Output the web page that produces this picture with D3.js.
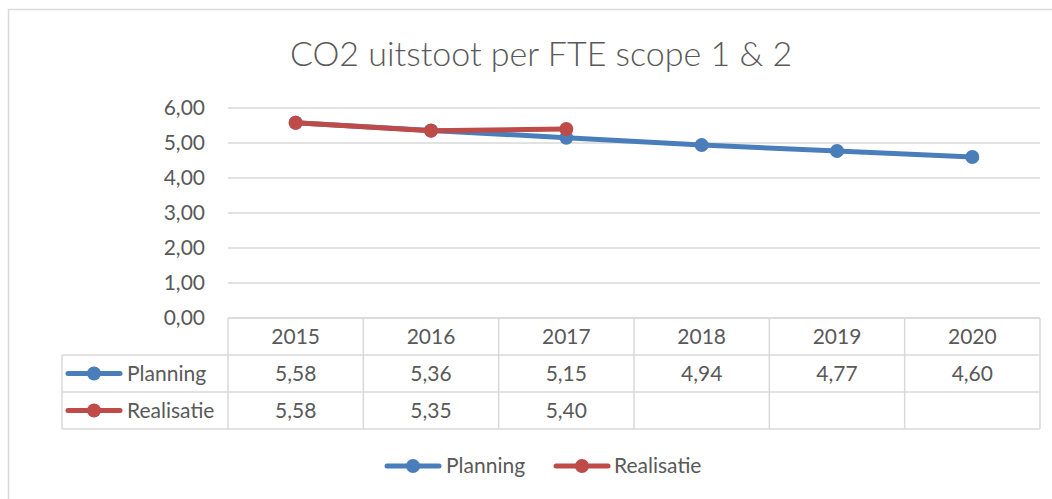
<!DOCTYPE html>
<html>
<head>
  <meta charset="UTF-8">
  <style>
    body {
      margin: 0;
      background-color: white;
      font-family: Lato, 'Open Sans', sans-serif;
    }
    svg {
      display: block;
    }
  </style>
</head>
<body>

<svg></svg>

<script src="https://d3js.org/d3.v7.min.js"></script>

<script>
let width = 1052, height = 499;

// chart data
let years = ["2015", "2016", "2017", "2018", "2019", "2020"];
let planning = [5.58, 5.36, 5.15, 4.94, 4.77, 4.60];
let realisatie = [5.58, 5.35, 5.40, null, null, null];
let yTicks = [0, 1, 2, 3, 4, 5, 6];
let seriesNames = ["Planning", "Realisatie"];
let seriesColors = ["#4a7ebb", "#be4b48"];

let textColor = "#595959";
let gridColor = "#d9d9d9";

let svg = d3.select("svg")
    .attr("width", width)
    .attr("height", height);

// outer frame
svg.append("rect")
    .attr("x", 8.5).attr("y", 9.5)
    .attr("width", 1100).attr("height", 1000)
    .attr("fill", "white")
    .attr("stroke", gridColor)
    .attr("stroke-width", 1.5);

svg.append("text")
    .attr("x", 541).attr("y", 66)
    .attr("text-anchor", "middle")
    .attr("fill", textColor)
    .attr("font-size", 34)
    .attr("font-weight", 300)
    .text("CO2 uitstoot per FTE scope 1 & 2");

let plotLeft = 228, plotRight = 1040, plotTop = 108, zero = 318;

let x = d3.scaleBand().domain(years).range([plotLeft, plotRight]);
let y = d3.scaleLinear().domain([0, 6]).range([zero, plotTop]);

let fmt = v => v == null ? "" : d3.format(".2f")(v).replace(".", ",");

// gridlines
svg.append("g")
  .selectAll("line")
  .data(yTicks)
  .enter()
  .append("line")
    .attr("x1", plotLeft).attr("x2", plotRight)
    .attr("y1", d => y(d)).attr("y2", d => y(d))
    .attr("stroke", gridColor)
    .attr("stroke-width", 1.5);

svg.append("g")
  .selectAll("text")
  .data(yTicks)
  .enter()
  .append("text")
    .attr("x", 205)
    .attr("y", d => y(d))
    .attr("dy", "0.35em")
    .attr("text-anchor", "end")
    .attr("fill", textColor)
    .attr("font-size", 21)
    .text(d => fmt(d));

// data table
let rowH = 37;
let rows = [zero, zero + rowH, zero + 2 * rowH, zero + 3 * rowH];
let legLeft = 62;
let table = svg.append("g")
    .attr("stroke", gridColor)
    .attr("stroke-width", 1.5);

table.append("line")
    .attr("x1", plotLeft).attr("x2", plotRight)
    .attr("y1", rows[0]).attr("y2", rows[0]);
rows.slice(1).forEach(r => {
  table.append("line")
      .attr("x1", legLeft).attr("x2", plotRight)
      .attr("y1", r).attr("y2", r);
});
years.forEach(yr => {
  table.append("line")
      .attr("x1", x(yr)).attr("x2", x(yr))
      .attr("y1", rows[0]).attr("y2", rows[3]);
});
table.append("line")
    .attr("x1", plotRight).attr("x2", plotRight)
    .attr("y1", rows[0]).attr("y2", rows[3]);
table.append("line")
    .attr("x1", legLeft).attr("x2", legLeft)
    .attr("y1", rows[1]).attr("y2", rows[3]);

let cellText = svg.append("g")
    .attr("fill", textColor)
    .attr("font-size", 21)
    .attr("text-anchor", "middle");

cellText.selectAll(".yr")
  .data(years)
  .enter()
  .append("text")
    .attr("x", d => x(d) + x.bandwidth() / 2)
    .attr("y", rows[0] + rowH / 2)
    .attr("dy", "0.35em")
    .text(d => d);

[planning, realisatie].forEach((vals, i) => {
  cellText.selectAll(".v" + i)
    .data(vals)
    .enter()
    .append("text")
      .attr("x", (d, j) => x(years[j]) + x.bandwidth() / 2)
      .attr("y", rows[i + 1] + rowH / 2)
      .attr("dy", "0.35em")
      .text(d => fmt(d));
});

function legendKey(g, cx, cy, color) {
  g.append("line")
      .attr("x1", cx - 26).attr("x2", cx + 26)
      .attr("y1", cy).attr("y2", cy)
      .attr("stroke", color)
      .attr("stroke-width", 5)
      .attr("stroke-linecap", "round");
  g.append("circle")
      .attr("cx", cx).attr("cy", cy)
      .attr("r", 7)
      .attr("fill", color);
}

seriesNames.forEach((name, i) => {
  let cy = rows[i + 1] + rowH / 2;
  legendKey(svg, 94, cy, seriesColors[i]);
  svg.append("text")
      .attr("x", 127).attr("y", cy)
      .attr("dy", "0.35em")
      .attr("fill", textColor)
      .attr("font-size", 21)
      .text(name);
});

// lines
let cx = d => x(d.year) + x.bandwidth() / 2;
let line = d3.line()
    .defined(d => d.value != null)
    .x(cx)
    .y(d => y(d.value));

[planning, realisatie].forEach((vals, i) => {
  let pts = vals.map((v, j) => ({ year: years[j], value: v }));
  svg.append("path")
      .datum(pts)
      .attr("d", line)
      .attr("fill", "none")
      .attr("stroke", seriesColors[i])
      .attr("stroke-width", 5)
      .attr("stroke-linecap", "round")
      .attr("stroke-linejoin", "round");
  svg.append("g")
    .selectAll("circle")
    .data(pts.filter(d => d.value != null))
    .enter()
    .append("circle")
      .attr("cx", cx)
      .attr("cy", d => y(d.value))
      .attr("r", 7)
      .attr("fill", seriesColors[i]);
});

// bottom legend
let legendPos = [[413, 446], [582, 614]];
seriesNames.forEach((name, i) => {
  legendKey(svg, legendPos[i][0], 466, seriesColors[i]);
  svg.append("text")
      .attr("x", legendPos[i][1]).attr("y", 466)
      .attr("dy", "0.35em")
      .attr("fill", textColor)
      .attr("font-size", 21)
      .text(name);
});
</script>

</body>
</html>
